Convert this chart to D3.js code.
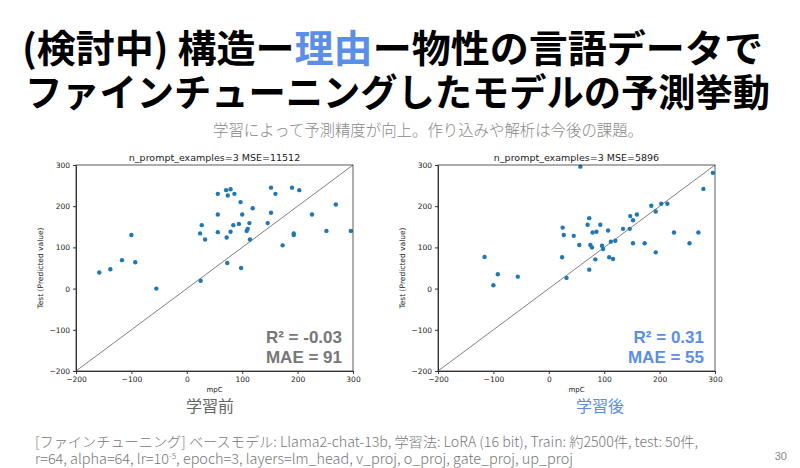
<!DOCTYPE html>
<html>
<head>
<meta charset="utf-8">
<script src="https://cdn.jsdelivr.net/npm/d3@7"></script>
<style>
  body { margin: 0; background: #fff; }
  svg { display: block; }
</style>
</head>
<body>
<svg id="chart" width="800" height="468"></svg>
<script>
// values (mpC vs predicted)
var beforeX = [-158, -138, -117, -100, -93, -55, 25, 24, 27, 33, 56, 56, 56, 71, 74, 79, 86, 72, 79, 73,
  84, 94, 97, 100, 98, 108, 110, 113, 114, 119, 146, 152, 152, 160, 173, 190, 193, 193, 203, 226, 252, 269, 296]
var beforeY = [39, 47, 69, 130, 64, 0, 19, 134, 154, 119, 230, 180, 137, 239, 226, 241, 230, 124, 138, 62,
  154, 157, 210, 180, 50, 140, 145, 159, 119, 195, 159, 245, 184, 230, 105, 245, 134, 130, 239, 180, 140, 204, 140]
var afterX = [-116, -100, -92, -56, 25, 27, 24, 32, 45, 57, 55, 70, 73, 75, 78, 73, 79, 86, 84, 93, 96, 98,
  107, 109, 112, 116, 120, 134, 146, 147, 152, 152, 159, 173, 185, 193, 193, 203, 214, 226, 254, 270, 279, 296]
var afterY = [77, 8, 35, 29, 148, 130, 76, 26, 128, 296, 106, 155, 171, 106, 100, 46, 136, 138, 71, 155, 104, 96,
  141, 76, 114, 72, 116, 145, 145, 176, 166, 110, 180, 110, 201, 187, 88, 206, 206, 136, 110, 136, 242, 281]
var ticks = [-200, -100, 0, 100, 200, 300]
var plotTitles = ['n_prompt_examples=3 MSE=11512', 'n_prompt_examples=3 MSE=5896']
var scoreLines = [['R² = -0.03', 'MAE = 91'], ['R² = 0.31', 'MAE = 55']]
var phaseLabels = ['学習前', '学習後']

var blue = '#5b8ee6', grey = '#777'
var svg = d3.select('#chart')

// title
var t1 = svg.append('text').attr('x', 22).attr('y', 62)
  .attr('textLength', 741).attr('lengthAdjust', 'spacingAndGlyphs')
  .style('font-family', '"Noto Sans CJK JP"').style('font-weight', 700).style('font-size', '38px')
t1.append('tspan').text('(検討中) 構造ー')
t1.append('tspan').attr('fill', blue).text('理由')
t1.append('tspan').text('ー物性の言語データで')

svg.append('text').attr('x', 25).attr('y', 106)
  .attr('textLength', 745).attr('lengthAdjust', 'spacingAndGlyphs')
  .style('font-family', '"Noto Sans CJK JP"').style('font-weight', 700).style('font-size', '38px')
  .text('ファインチューニングしたモデルの予測挙動')

svg.append('text').attr('x', 213).attr('y', 136)
  .attr('textLength', 430).attr('lengthAdjust', 'spacingAndGlyphs')
  .attr('fill', '#888')
  .style('font-family', '"Noto Sans CJK JP"').style('font-weight', 300).style('font-size', '16px')
  .text('学習によって予測精度が向上。作り込みや解析は今後の課題。')

var panels = [
  {x0: 76, x1: 353, xs: beforeX, ys: beforeY, color: grey, labelX: 210},
  {x0: 438, x1: 715, xs: afterX, ys: afterY, color: blue, labelX: 600}
]

panels.forEach(function(p, i){
  var x = d3.scaleLinear().domain([-200, 300]).range([p.x0, p.x1])
  var y = d3.scaleLinear().domain([-200, 300]).range([371, 165])
  var g = svg.append('g')

  g.append('line')
    .attr('x1', x(-200)).attr('y1', y(-200)).attr('x2', x(300)).attr('y2', y(300))
    .attr('stroke', '#808080').attr('stroke-width', 1)

  g.selectAll('circle').data(p.xs).enter().append('circle')
    .attr('cx', function(d){ return x(d) })
    .attr('cy', function(d, j){ return y(p.ys[j]) })
    .attr('r', 2.2).attr('fill', '#1f77b4')

  var xa = g.append('g').attr('transform', 'translate(0,371)')
    .call(d3.axisBottom(x).tickValues(ticks).tickSize(3).tickFormat(d3.format('d')))
  var ya = g.append('g').attr('transform', 'translate(' + p.x0 + ',0)')
    .call(d3.axisLeft(y).tickValues(ticks).tickSize(3).tickFormat(d3.format('d')))
  ;[xa, ya].forEach(function(a){
    a.selectAll('text').style('font-family', '"DejaVu Sans"').style('font-size', '7.5px').attr('fill', '#222')
    a.select('.domain').attr('stroke', '#333')
    a.selectAll('.tick line').attr('stroke', '#333')
  })
  ya.selectAll('text').text(function(d){ return d < 0 ? '\u2212' + (-d) : d })
  xa.selectAll('text').text(function(d){ return d < 0 ? '\u2212' + (-d) : d })

  // box top / right
  g.append('rect').attr('x', p.x0).attr('y', 165).attr('width', p.x1 - p.x0).attr('height', 206)
    .attr('fill', 'none').attr('stroke', '#333').attr('stroke-width', 0.8)

  g.append('text').attr('x', (p.x0 + p.x1) / 2).attr('y', 161).attr('text-anchor', 'middle')
    .style('font-family', '"DejaVu Sans"').style('font-size', '9.5px').attr('fill', '#222')
    .text(plotTitles[i])

  g.append('text').attr('x', (p.x0 + p.x1) / 2).attr('y', 392).attr('text-anchor', 'middle')
    .style('font-family', '"DejaVu Sans"').style('font-size', '7px').attr('fill', '#222')
    .text('mpC')

  g.append('text').attr('transform', 'translate(' + (p.x0 - 33) + ',268) rotate(-90)')
    .attr('text-anchor', 'middle')
    .style('font-family', '"DejaVu Sans"').style('font-size', '7.5px').attr('fill', '#222')
    .text('Test (Predicted value)')

  scoreLines[i].forEach(function(s, k){
    g.append('text').attr('x', p.x1 - 11).attr('y', 343 + k * 20).attr('text-anchor', 'end')
      .attr('fill', p.color)
      .style('font-family', '"Liberation Sans"').style('font-weight', 700).style('font-size', '17px')
      .text(s)
  })

  g.append('text').attr('x', p.labelX).attr('y', 412).attr('text-anchor', 'middle')
    .attr('fill', i ? blue : '#666')
    .style('font-family', '"Noto Sans CJK JP"').style('font-size', '16px')
    .text(phaseLabels[i])
})

// footer
var foot = svg.append('g').attr('fill', '#777')
  .style('font-family', '"Noto Sans CJK JP"').style('font-weight', 300).style('font-size', '14px')
foot.append('text').attr('x', 35).attr('y', 447)
  .attr('textLength', 663).attr('lengthAdjust', 'spacingAndGlyphs')
  .text('[ファインチューニング] ベースモデル: Llama2-chat-13b, 学習法: LoRA (16 bit), Train: 約2500件, test: 50件,')
var l2 = foot.append('text').attr('x', 35).attr('y', 464)
  .attr('textLength', 538).attr('lengthAdjust', 'spacingAndGlyphs')
l2.append('tspan').text('r=64, alpha=64, lr=10')
l2.append('tspan').attr('dy', -5).style('font-size', '8px').text('-5')
l2.append('tspan').attr('dy', 5).text(', epoch=3, layers=lm_head, v_proj, o_proj, gate_proj, up_proj')
svg.append('text').attr('x', 787).attr('y', 460).attr('text-anchor', 'end')
  .attr('fill', '#888').style('font-family', '"Liberation Sans"').style('font-size', '11px').text('30')
</script>
</body>
</html>
